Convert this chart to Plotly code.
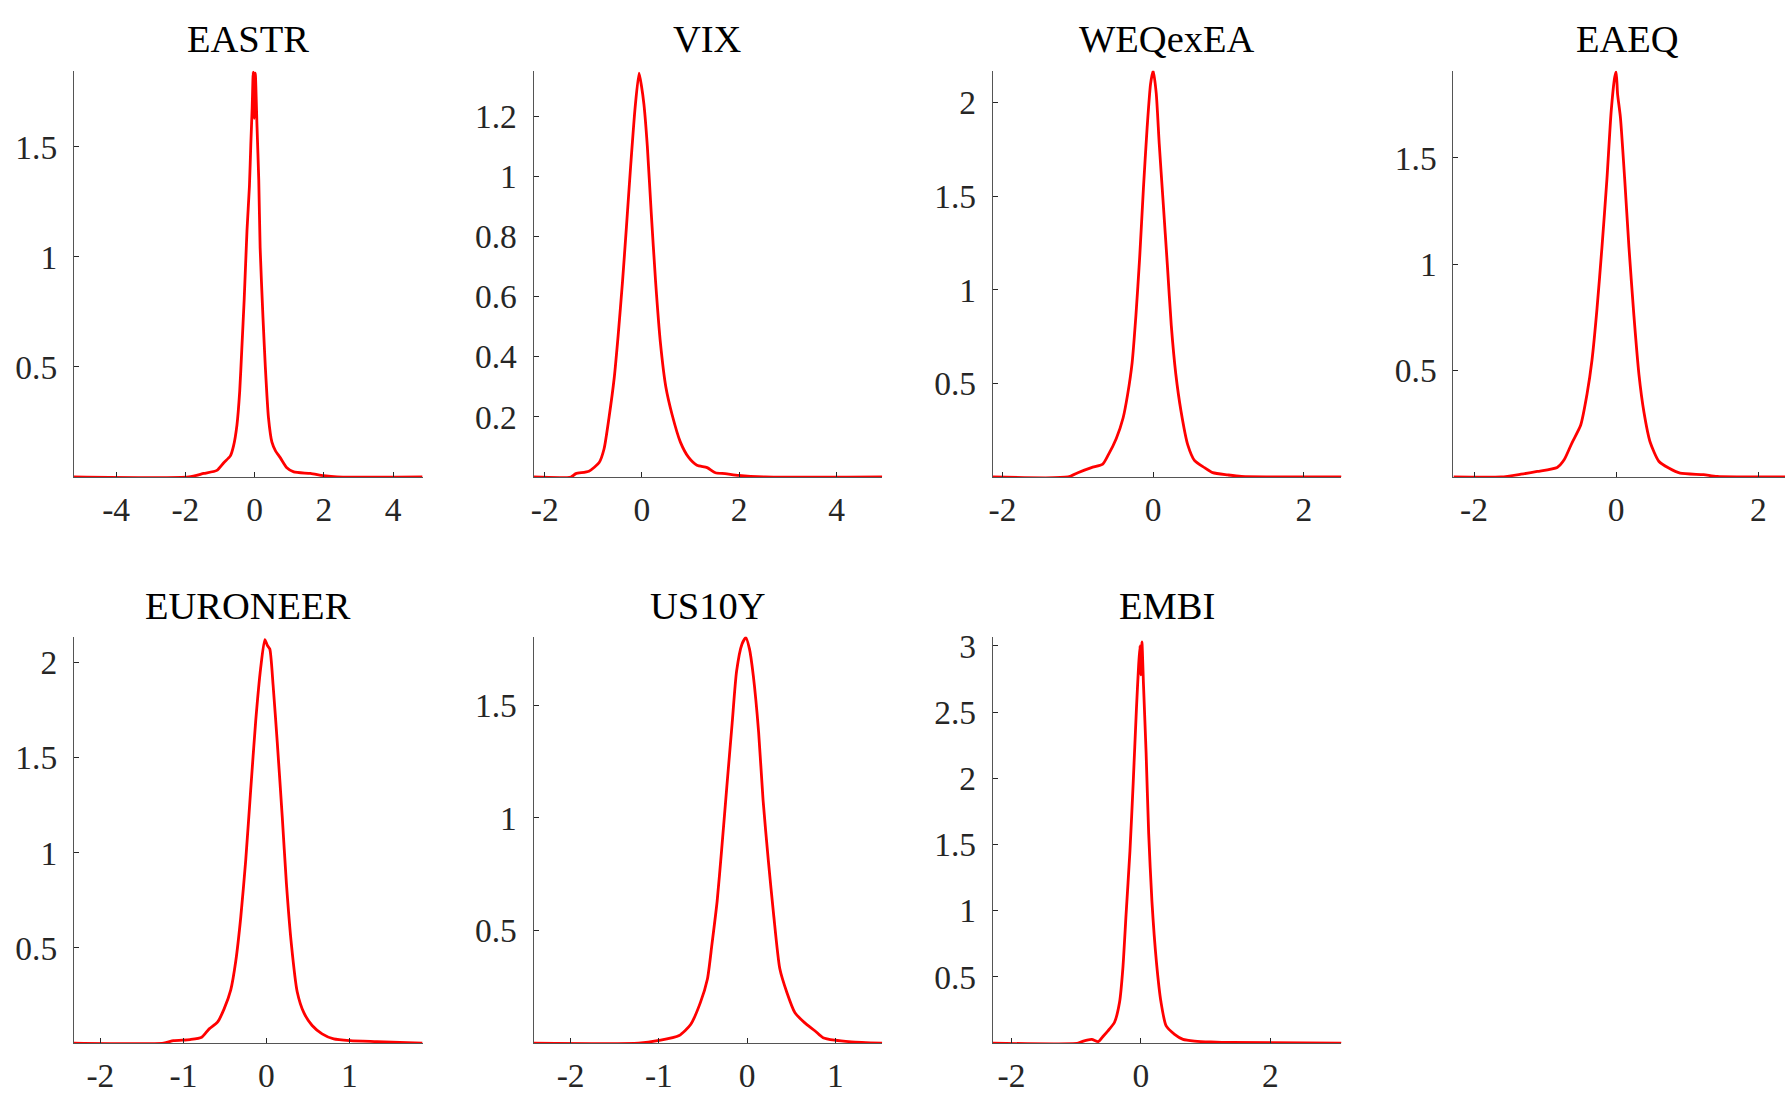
import plotly.graph_objects as go

# ---------------- data ----------------
panel_titles = ["EASTR", "VIX", "WEQexEA", "EAEQ", "EURONEER", "US10Y", "EMBI"]

EASTR_x = [-5.22, -1.9, -1.47, -1.09, -0.89, -0.70, -0.61, -0.51, -0.43, -0.37, -0.30, -0.22, -0.15, -0.11,
           -0.07, -0.04, -0.01, 0.02, 0.07, 0.12, 0.16, 0.24, 0.31, 0.40, 0.50, 0.60, 0.74, 0.93, 1.13, 1.61,
           1.99, 2.38, 4.85]
EASTR_y = [0.0, 0.0, 0.016, 0.03, 0.065, 0.096, 0.14, 0.236, 0.39, 0.58, 0.81, 1.12, 1.32, 1.51,
           1.68, 1.84, 1.63, 1.835, 1.59, 1.35, 1.04, 0.73, 0.50, 0.27, 0.158, 0.12, 0.088, 0.042, 0.023, 0.016,
           0.006, 0.0, 0.0]

VIX_x = [-2.23, -1.46, -1.36, -1.09, -0.88, -0.78, -0.68, -0.57, -0.49, -0.40, -0.32, -0.23, -0.14, -0.06,
         -0.01, 0.04, 0.11, 0.19, 0.28, 0.38, 0.49, 0.62, 0.79, 0.96, 1.13, 1.34, 1.51, 1.71, 1.99, 2.53, 4.94]
VIX_y = [0.0, 0.0, 0.011, 0.019, 0.048, 0.093, 0.195, 0.33, 0.47, 0.65, 0.83, 1.04, 1.23, 1.343,
         1.30, 1.24, 1.10, 0.88, 0.65, 0.445, 0.30, 0.207, 0.116, 0.065, 0.039, 0.031, 0.014, 0.011, 0.005, 0.0, 0.0]

WEQexEA_x = [-2.13, -1.13, -1.00, -0.82, -0.67, -0.60, -0.49, -0.40, -0.34, -0.28, -0.23, -0.18, -0.13, -0.08,
             -0.035, 0.0, 0.04, 0.08, 0.13, 0.19, 0.24, 0.30, 0.37, 0.46, 0.55, 0.68, 0.79, 0.99, 1.17, 2.50]
WEQexEA_y = [0.0, 0.0, 0.023, 0.05, 0.069, 0.115, 0.206, 0.315, 0.44, 0.61, 0.86, 1.17, 1.54, 1.87,
             2.10, 2.17, 2.05, 1.78, 1.48, 1.12, 0.81, 0.55, 0.35, 0.17, 0.087, 0.05, 0.023, 0.011, 0.003, 0.0]

EAEQ_x = [-2.29, -1.62, -1.34, -1.11, -0.83, -0.73, -0.62, -0.50, -0.41, -0.34, -0.27, -0.20, -0.13, -0.07,
          -0.02, 0.0, 0.02, 0.06, 0.12, 0.18, 0.25, 0.32, 0.39, 0.48, 0.60, 0.74, 0.90, 1.23, 1.42, 2.40]
EAEQ_y = [0.0, 0.0, 0.013, 0.026, 0.045, 0.082, 0.162, 0.243, 0.39, 0.55, 0.79, 1.08, 1.40, 1.72,
          1.88, 1.905, 1.80, 1.69, 1.40, 1.08, 0.757, 0.484, 0.307, 0.162, 0.074, 0.042, 0.018, 0.011, 0.003, 0.0]

EURONEER_x = [-2.32, -1.24, -1.12, -0.92, -0.78, -0.69, -0.59, -0.51, -0.43, -0.37, -0.31, -0.25, -0.19, -0.13,
              -0.07, -0.02, 0.01, 0.04, 0.08, 0.13, 0.19, 0.24, 0.30, 0.37, 0.45, 0.55, 0.67, 0.81, 1.01, 1.33, 1.88]
EURONEER_y = [0.0, 0.0, 0.013, 0.019, 0.031, 0.075, 0.11, 0.18, 0.28, 0.43, 0.66, 0.96, 1.33, 1.69,
              1.97, 2.12, 2.09, 2.07, 1.88, 1.58, 1.19, 0.84, 0.52, 0.27, 0.16, 0.093, 0.049, 0.022, 0.013, 0.008, 0.0]

US10Y_x = [-2.42, -1.23, -1.00, -0.77, -0.64, -0.53, -0.45, -0.40, -0.34, -0.29, -0.23, -0.17, -0.12, -0.06,
           -0.015, 0.026, 0.07, 0.13, 0.18, 0.24, 0.30, 0.37, 0.45, 0.54, 0.65, 0.77, 0.86, 0.99, 1.18, 1.53]
US10Y_y = [0.0, 0.0, 0.012, 0.034, 0.083, 0.18, 0.285, 0.435, 0.63, 0.854, 1.14, 1.42, 1.65, 1.77,
           1.80, 1.75, 1.63, 1.38, 1.08, 0.81, 0.57, 0.33, 0.225, 0.136, 0.091, 0.054, 0.024, 0.013, 0.006, 0.0]

EMBI_x = [-2.29, -0.97, -0.89, -0.76, -0.66, -0.58, -0.51, -0.41, -0.33, -0.28, -0.23, -0.17, -0.12, -0.07,
          -0.036, -0.015, 0.0, 0.015, 0.04, 0.08, 0.12, 0.17, 0.24, 0.31, 0.39, 0.52, 0.65, 0.83, 1.08, 1.39, 3.10]
EMBI_y = [0.0, 0.0, 0.016, 0.029, 0.011, 0.054, 0.093, 0.156, 0.31, 0.56, 0.97, 1.45, 1.96, 2.52,
          2.85, 3.00, 2.78, 3.03, 2.70, 2.19, 1.58, 1.07, 0.61, 0.31, 0.13, 0.067, 0.029, 0.016, 0.009, 0.005, 0.0]

series_x = [EASTR_x, VIX_x, WEQexEA_x, EAEQ_x, EURONEER_x, US10Y_x, EMBI_x]
series_y = [EASTR_y, VIX_y, WEQexEA_y, EAEQ_y, EURONEER_y, US10Y_y, EMBI_y]

x_ranges = [[-5.22, 4.85], [-2.23, 4.94], [-2.13, 2.50], [-2.29, 2.376],
            [-2.32, 1.88], [-2.42, 1.53], [-2.29, 3.10]]
y_ranges = [[0, 1.846], [0, 1.351], [0, 2.17], [0, 1.91],
            [0, 2.136], [0, 1.805], [0, 3.07]]
x_ticks = [[-4, -2, 0, 2, 4], [-2, 0, 2, 4], [-2, 0, 2], [-2, 0, 2],
           [-2, -1, 0, 1], [-2, -1, 0, 1], [-2, 0, 2]]
y_ticks = [[0.5, 1, 1.5], [0.2, 0.4, 0.6, 0.8, 1, 1.2], [0.5, 1, 1.5, 2], [0.5, 1, 1.5],
           [0.5, 1, 1.5, 2], [0.5, 1, 1.5], [0.5, 1, 1.5, 2, 2.5, 3]]

# ---------------- layout geometry (pixels) ----------------
W, H = 1785, 1094
AXW = 349.5                      # full width of one axes box (last one is cut by the page edge)
col_left = [70, 530.7, 991, 1452.7]
row_px = [(62.3, 472.3), (633.3, 1043.7)]
title_y_px = [30.3, 602.2]
positions = [(0, 0), (0, 1), (0, 2), (0, 3), (1, 0), (1, 1), (1, 2)]

AX = "#262626"
AXLINE = "#555555"
FONT = "Liberation Serif"
TICK_SIZE = 33.5
TITLE_SIZE = 38.5

fig = go.Figure()
layout = dict(
    width=W, height=H,
    margin=dict(l=0, r=0, t=0, b=0),
    paper_bgcolor="white", plot_bgcolor="white",
    showlegend=False,
    font=dict(family=FONT, size=TICK_SIZE, color=AX),
    annotations=[],
)

def fmt(v):
    return f"{v:g}"

for i, (r, c) in enumerate(positions):
    k = i + 1
    xa = "x" if k == 1 else f"x{k}"
    ya = "y" if k == 1 else f"y{k}"
    fig.add_trace(go.Scatter(x=series_x[i], y=series_y[i], mode="lines",
                             line=dict(color="#ff0000", width=2.8, shape="spline", smoothing=0.6),
                             xaxis=xa, yaxis=ya, hoverinfo="skip"))
    x0 = col_left[c]
    x1 = min(x0 + AXW, W)
    y0, y1 = row_px[r]
    xkey = "xaxis" if k == 1 else f"xaxis{k}"
    ykey = "yaxis" if k == 1 else f"yaxis{k}"
    common = dict(showgrid=False, zeroline=False, showline=True, linecolor=AXLINE, linewidth=1,
                  ticks="inside", ticklen=5, tickwidth=1, tickcolor=AX,
                  tickfont=dict(family=FONT, size=TICK_SIZE, color=AX), fixedrange=True)
    layout[xkey] = dict(domain=[x0 / W, x1 / W], range=x_ranges[i], anchor=ya,
                        tickvals=x_ticks[i], ticktext=[fmt(v) for v in x_ticks[i]],
                        ticklabelstandoff=3, **common)
    layout[ykey] = dict(domain=[1 - y1 / H, 1 - y0 / H], range=y_ranges[i], anchor=xa,
                        tickvals=y_ticks[i], ticktext=[fmt(v) for v in y_ticks[i]],
                        ticklabelstandoff=9, **common)
    layout["annotations"].append(dict(
        text=panel_titles[i], x=(x0 + AXW / 2) / W, y=1 - title_y_px[r] / H,
        xref="paper", yref="paper", xanchor="center", yanchor="middle",
        showarrow=False, font=dict(family=FONT, size=TITLE_SIZE, color="black")))

fig.update_layout(**layout)
fig.write_html("out.html", config={"displayModeBar": False},
               post_script="document.body.style.margin='0';document.body.style.overflow='hidden';")
